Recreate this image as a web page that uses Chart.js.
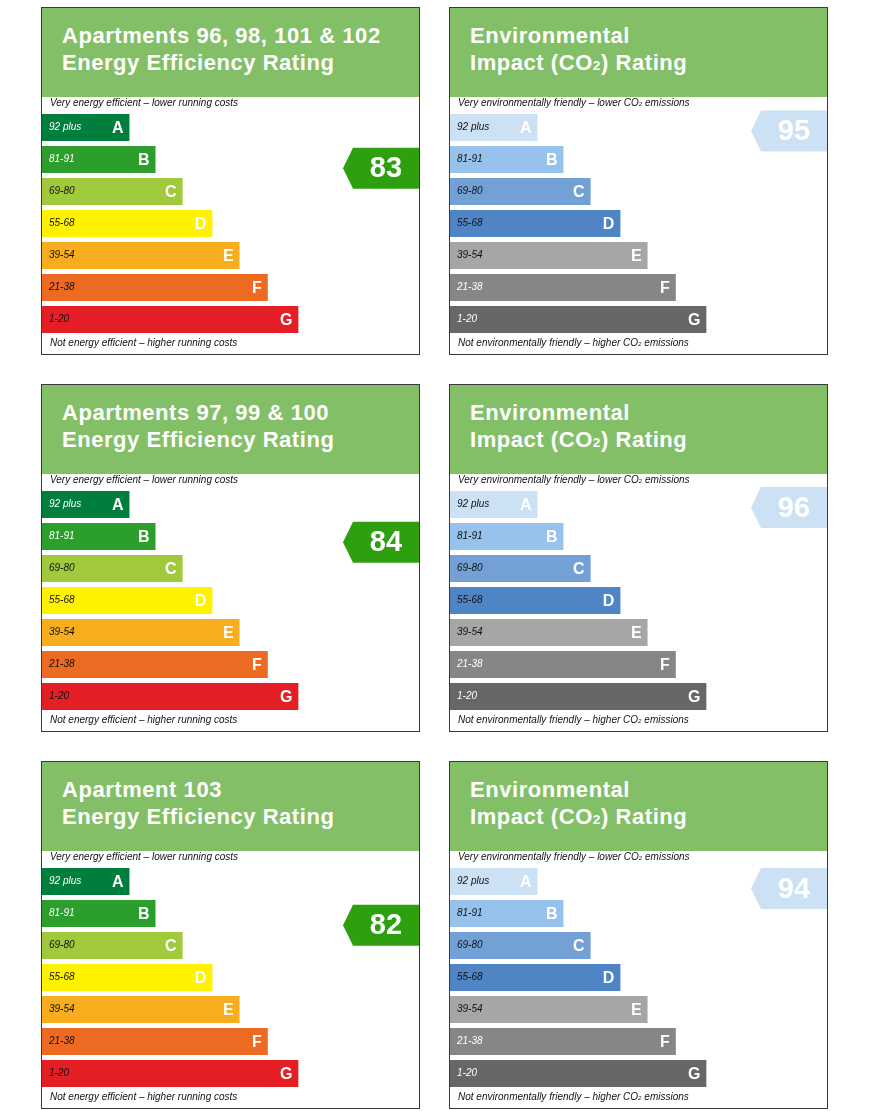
<!DOCTYPE html>
<html>
<head>
<meta charset="utf-8">
<script src="https://cdn.jsdelivr.net/npm/chart.js@4.4.1/dist/chart.umd.min.js"></script>
<style>
body { margin: 0; background: #fff; font-family: "Liberation Sans", Arial, sans-serif; }
.panel { position: absolute; width: 377px; height: 346px; border: 1px solid #3a3a3a; background: #fff; }
.head { position: absolute; left: 0; top: 0; width: 377px; height: 89px; box-sizing: border-box; padding: 14px 0 0 20px;
  background: #83bf67; color: #fff; font-weight: bold; font-size: 22px; line-height: 27px; letter-spacing: 0.55px; white-space: nowrap; }
.cap { position: absolute; left: 8px; font-style: italic; font-size: 10px; line-height: 12px; color: #111; white-space: nowrap; z-index: 2; }
.sub { font-size: 62%; }
.panel canvas { position: absolute; left: 0; top: 89px; }
</style>
</head>
<body>
<div id="page"></div>
<script>
// bands of the rating scale
var bandLetters = ['A', 'B', 'C', 'D', 'E', 'F', 'G'];
var bandRanges = ['92 plus', '81-91', '69-80', '55-68', '39-54', '21-38', '1-20'];
var bandLow = [92, 81, 69, 55, 39, 21, 1];
var bandHigh = [100, 91, 80, 68, 54, 38, 20];
var bandLength = [23.2, 30.1, 37.3, 45.2, 52.4, 59.9, 68.0];

// one row per group of apartments
var apartmentTitles = ['Apartments 96, 98, 101 &amp; 102', 'Apartments 97, 99 &amp; 100', 'Apartment 103'];
var energyRatings = [83, 84, 82];
var co2Ratings = [95, 96, 94];

var energyColors = ['#007e3e', '#2b9e2c', '#a0c93b', '#fff200', '#f7ad1e', '#ec6a22', '#e31e25'];
var energyText = ['#fff', '#fff', '#111', '#111', '#111', '#111', '#111'];
var co2Colors = ['#cde1f4', '#97c2ec', '#73a1d6', '#4f85c5', '#a6a6a6', '#868686', '#676767'];
var co2Text = ['#111', '#111', '#111', '#111', '#111', '#fff', '#fff'];

var epcPlugin = {
	id: 'epc',
	afterDatasetsDraw: function(chart, args, opts) {
		var ctx = chart.ctx;
		var meta = chart.getDatasetMeta(0);
		var yScale = chart.scales.y;
		ctx.save();
		ctx.textBaseline = 'middle';
		meta.data.forEach(function(bar, i) {
			ctx.font = 'italic 10px "Liberation Sans", Arial, sans-serif';
			ctx.fillStyle = opts.textColors[i];
			ctx.textAlign = 'left';
			ctx.fillText(bandRanges[i], bar.base + 7, bar.y);
			ctx.font = 'bold 16px "Liberation Sans", Arial, sans-serif';
			ctx.fillStyle = '#fff';
			ctx.textAlign = 'right';
			ctx.fillText(bandLetters[i], bar.x - 6, bar.y + 1);
		});

		// rating arrow, placed inside its band by value
		var r = opts.rating;
		var k = 0;
		while (k < bandLow.length - 1 && r < bandLow[k]) k++;
		var pitch = yScale.getPixelForValue(1) - yScale.getPixelForValue(0);
		var cy = yScale.getPixelForValue(k) - pitch / 2 + (bandHigh[k] + 0.5 - r) / (bandHigh[k] - bandLow[k] + 1) * pitch;
		var first = meta.data[0];
		cy = Math.max(cy, first.y - first.height / 2 - 4 + 20.5);
		var right = chart.chartArea.right;
		var bodyL = right - 66;
		ctx.fillStyle = opts.arrowColor;
		ctx.beginPath();
		ctx.moveTo(bodyL - 10, cy);
		ctx.lineTo(bodyL, cy - 20.5);
		ctx.lineTo(right, cy - 20.5);
		ctx.lineTo(right, cy + 20.5);
		ctx.lineTo(bodyL, cy + 20.5);
		ctx.closePath();
		ctx.fill();
		ctx.font = 'bold 29px "Liberation Sans", Arial, sans-serif';
		ctx.fillStyle = '#fff';
		ctx.textAlign = 'center';
		ctx.fillText(String(r), (bodyL + right) / 2, cy + 1);
		ctx.restore();
	}
};

function make_panel(left, panelTop, title, capTop, capBottom, colors, textColors, rating, arrowColor) {
	var div = document.createElement('div');
	div.className = 'panel';
	div.style.left = left + 'px';
	div.style.top = panelTop + 'px';
	div.innerHTML = "<div class='head'>" + title + "</div>" +
		"<div class='cap' style='top: 89px;'>" + capTop + "</div>" +
		"<div class='cap' style='top: 329px;'>" + capBottom + "</div>" +
		"<canvas width='377' height='257'></canvas>";
	document.getElementById('page').appendChild(div);

	new Chart(div.querySelector('canvas'), {
		type: 'bar',
		data: {
			labels: bandLetters,
			datasets: [{
				data: bandLength,
				backgroundColor: colors,
				barPercentage: 0.84,
				categoryPercentage: 1
			}]
		},
		options: {
			indexAxis: 'y',
			responsive: false,
			animation: false,
			layout: { padding: { top: 14.5, bottom: 18.5, left: 0, right: 0 } },
			scales: {
				x: { display: false, min: 0, max: 100 },
				y: { display: false }
			},
			plugins: {
				legend: { display: false },
				tooltip: { enabled: false },
				epc: { rating: rating, arrowColor: arrowColor, textColors: textColors }
			}
		},
		plugins: [epcPlugin]
	});
}

for (var i = 0; i < 3; i++) {
	var rowTop = 7 + i * 377;
	make_panel(41, rowTop, apartmentTitles[i] + '<br>Energy Efficiency Rating',
		'Very energy efficient – lower running costs',
		'Not energy efficient – higher running costs',
		energyColors, energyText, energyRatings[i], '#2ea00f');
	make_panel(449, rowTop, 'Environmental<br>Impact (CO<span class="sub">2</span>) Rating',
		'Very environmentally friendly – lower CO<span class="sub">2</span> emissions',
		'Not environmentally friendly – higher CO<span class="sub">2</span> emissions',
		co2Colors, co2Text, co2Ratings[i], '#cde1f4');
}
</script>
</body>
</html>
